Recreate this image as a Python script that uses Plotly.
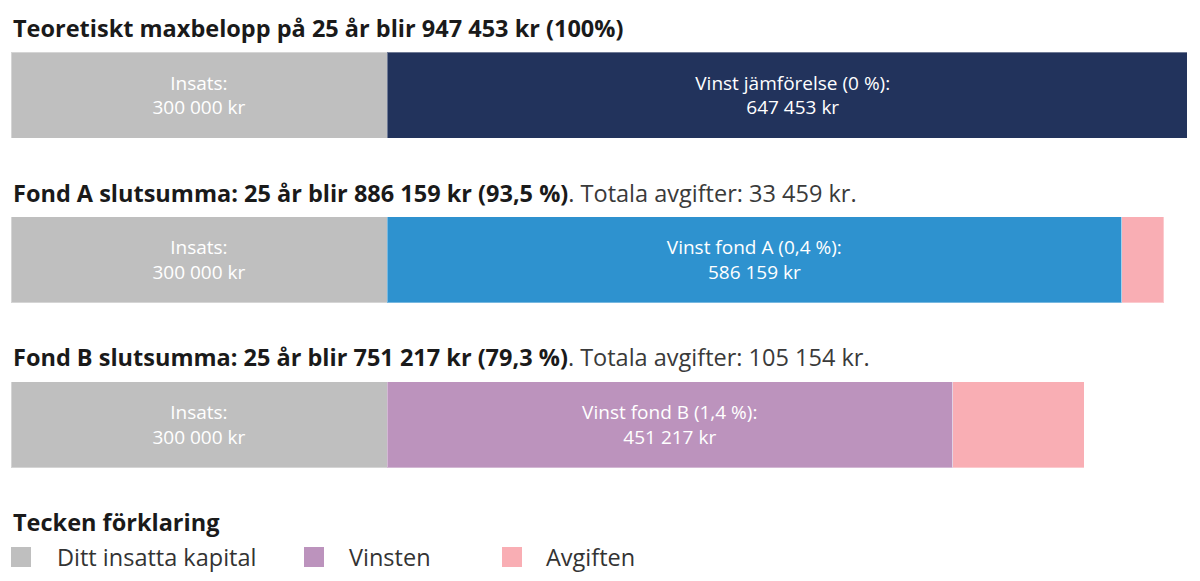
import plotly.graph_objects as go

# ---- data ----
rows = [0, 1, 2]
insats = [300000, 300000, 300000]
vinst = [647453, 586159, 451217]
avgifter = [0, 33459, 105154]
vinst_labels = ["Vinst jämförelse (0 %)", "Vinst fond A (0,4 %)", "Vinst fond B (1,4 %)"]
title_prefix = ["Teoretiskt maxbelopp på 25 år blir", "Fond A slutsumma: 25 år blir", "Fond B slutsumma: 25 år blir"]
legend_title = "Tecken förklaring"
legend_names = ["Ditt insatta kapital", "Vinsten", "Avgiften"]

# ---- style ----
FONT = "Open Sans"
GREY = "#bfbfbf"
VINST_COLORS = ["#22335c", "#2e92cf", "#bc93bd"]
PINK = "#f9aeb4"
LEGEND_COLORS = [GREY, VINST_COLORS[2], PINK]
EDGE = dict(color="rgba(255,255,255,0.35)", width=1)
BARW = 0.522
W, H = 1200, 581
ML, MR = 3, 21
PAGE_OFF = 8  # body margin of the html page
PW = W - ML - MR


def kr(v):
    return f"{v:,}".replace(",", " ") + " kr"


def pct(v, ref):
    return f"{v / ref * 100:.1f}".replace(".", ",")


def px_x(sx):  # screen x -> paper x
    return (sx - PAGE_OFF - ML) / PW


def px_y(sy):  # screen y -> paper y
    return 1 - (sy - PAGE_OFF) / H


fig = go.Figure()

fig.add_trace(go.Bar(
    y=rows, x=insats, orientation="h", width=BARW,
    marker=dict(color=GREY, line=EDGE),
    text=[f"Insats:<br>{kr(v)}" for v in insats],
    textposition="inside", insidetextanchor="middle", textangle=0,
    insidetextfont=dict(color="white", size=19, family=FONT),
    name=legend_names[0], showlegend=False, hoverinfo="skip",
))

for i in rows:
    fig.add_trace(go.Bar(
        y=[i], x=[vinst[i]], orientation="h", width=BARW,
        marker=dict(color=VINST_COLORS[i], line=EDGE),
        text=[f"{vinst_labels[i]}:<br>{kr(vinst[i])}"],
        textposition="inside", insidetextanchor="middle", textangle=0,
        insidetextfont=dict(color="white", size=19, family=FONT),
        name=legend_names[1], showlegend=False, hoverinfo="skip",
    ))

fig.add_trace(go.Bar(
    y=rows, x=avgifter, orientation="h", width=BARW,
    marker=dict(color=PINK, line=EDGE),
    name=legend_names[2], showlegend=False, hoverinfo="skip",
))

# titles above each bar
maxv = insats[0] + vinst[0]
for i in rows:
    total = insats[i] + vinst[i]
    if i == 0:
        txt = f"<b>{title_prefix[i]} {kr(total)} (100%)</b>"
    else:
        txt = (f"<b>{title_prefix[i]} {kr(total)} ({pct(total, maxv)} %)</b>"
               f"<span style='color:#3a3a3a'>. Totala avgifter: {kr(avgifter[i])}.</span>")
    fig.add_annotation(
        x=0, xref="paper", xanchor="left", y=i - 0.407, yref="y", yanchor="middle",
        text=txt, showarrow=False, font=dict(size=23.5, color="#1a1a1a", family=FONT),
    )

# legend (key)
fig.add_annotation(
    x=0, xref="paper", xanchor="left", y=px_y(522), yref="paper", yanchor="middle",
    text=f"<b>{legend_title}</b>", showarrow=False,
    font=dict(size=23.5, color="#1a1a1a", family=FONT),
)
swatch_x = [11, 304, 502]
text_x = [55, 347, 544]
for name, col, sx, tx in zip(legend_names, LEGEND_COLORS, swatch_x, text_x):
    fig.add_shape(type="rect", xref="paper", yref="paper",
                  x0=px_x(sx), x1=px_x(sx + 20), y0=px_y(567), y1=px_y(547),
                  fillcolor=col, line=dict(width=0))
    fig.add_annotation(
        x=px_x(tx), xref="paper", xanchor="left", y=px_y(557), yref="paper", yanchor="middle",
        text=name, showarrow=False, font=dict(size=23.5, color="#333333", family=FONT),
    )

# y axis: centre of bar 0 at screen y 95, bar 2 at 424.5
unit = (424.5 - 95) / 2
y_top = -(95 - PAGE_OFF) / unit
y_bot = 2 + (H - (424.5 - PAGE_OFF)) / unit

fig.update_layout(
    width=W, height=H,
    margin=dict(l=ML, r=MR, t=0, b=0),
    paper_bgcolor="white", plot_bgcolor="white",
    barmode="stack",
    font=dict(family=FONT, color="#222222"),
    xaxis=dict(visible=False, range=[0, 938300], fixedrange=True),
    yaxis=dict(visible=False, range=[y_bot, y_top], fixedrange=True),
    showlegend=False,
)

fig.write_html("out.html")
